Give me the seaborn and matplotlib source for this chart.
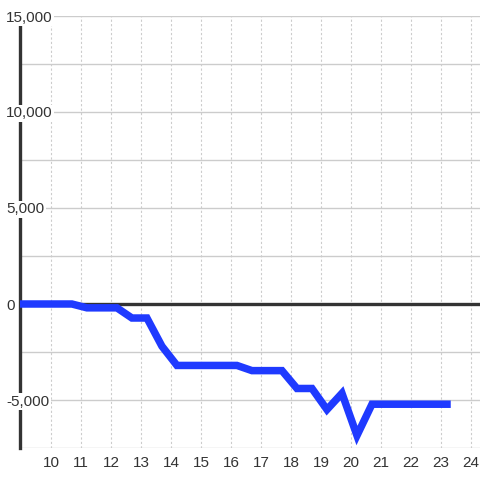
import matplotlib
matplotlib.use("Agg")
import matplotlib.pyplot as plt
import matplotlib.transforms as mtransforms
import seaborn as sns
import pandas as pd

hours = [8.7, 9.2, 9.7, 10.2, 10.7, 11.2, 11.7, 12.2, 12.7, 13.2, 13.7, 14.2, 14.7,
         15.2, 15.7, 16.2, 16.7, 17.2, 17.7, 18.2, 18.7, 19.2, 19.7, 20.2, 20.7,
         21.2, 21.7, 22.2, 22.7, 23.2]
values = [0, 0, 0, 0, 0, -200, -200, -200, -730, -730, -2200, -3200, -3200,
          -3200, -3200, -3200, -3470, -3470, -3470, -4400, -4400, -5500, -4650, -6850, -5220,
          -5220, -5220, -5220, -5220, -5220]
x_ticks = list(range(10, 25))
y_ticks = [-5000, 0, 5000, 10000, 15000]
y_grid = [-7500, -5000, -2500, 0, 2500, 5000, 7500, 10000, 12500, 15000]

sns.set_style("white")
plt.rcParams["font.family"] = ["Liberation Sans", "DejaVu Sans"]

df = pd.DataFrame({"hour": hours, "value": values})

fig = plt.figure(figsize=(4.8, 4.8), dpi=100)
ax = fig.add_axes([20 / 480, 1 - 448 / 480, 460 / 480, 432 / 480])
ax.set_xlim(8.97, 24.3)
ax.set_ylim(-7500, 15000)

for gy in y_grid:
    ax.axhline(gy, color="#cccccc", lw=1, zorder=0)
for gx in x_ticks:
    ax.axvline(gx, color="#cccccc", lw=0.8, ls=(0, (2, 2)), zorder=0)

ax.axhline(0, color="#333333", lw=2.4, zorder=2)

for s in ["top", "right", "bottom"]:
    ax.spines[s].set_visible(False)
ax.spines["left"].set_color("#333333")
ax.spines["left"].set_linewidth(2.4)
ax.spines["left"].set_zorder(2)

sns.lineplot(data=df, x="hour", y="value", ax=ax, color="#1f3aff", lw=5.4,
             solid_capstyle="projecting", solid_joinstyle="miter", zorder=4,
             estimator=None, sort=False)
ax.set_xlabel("")
ax.set_ylabel("")

ax.set_xticks(x_ticks)
ax.set_xticklabels([str(t) for t in x_ticks])
ax.tick_params(axis="x", length=0, pad=6, labelsize=11, labelcolor="#333333")
ax.set_yticks([])

trans = mtransforms.blended_transform_factory(fig.transFigure, ax.transData)
for yt in y_ticks:
    ax.text(6 / 480, yt, f"{yt:,}", transform=trans, ha="left", va="center_baseline",
            fontsize=11, color="#333333", zorder=5,
            bbox=dict(facecolor="white", edgecolor="none", pad=1.0))

fig.savefig("out.png", dpi=100, facecolor="white")
